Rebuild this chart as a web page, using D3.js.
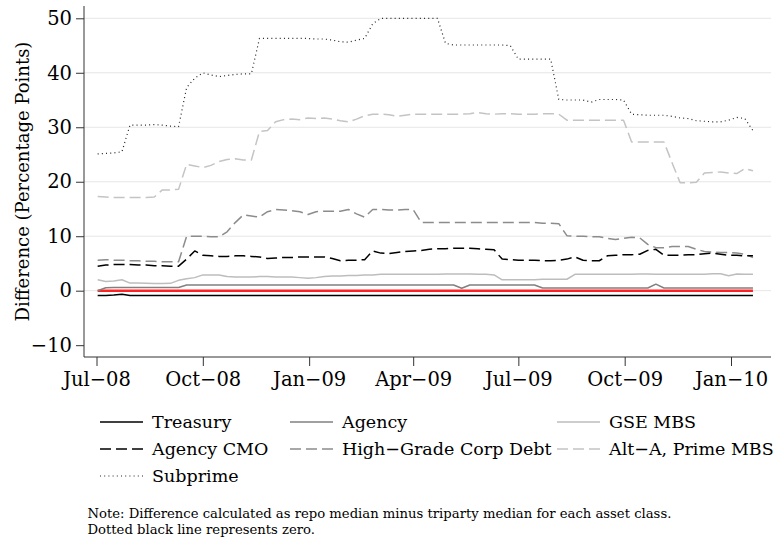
<html>
  <head>
    <meta charset="utf-8">
    <script src="https://d3js.org/d3.v7.min.js"></script>
    <style type="text/css">
      body {
        margin: 0;
        padding: 0;
        background: #fff;
      }
      text {
        font-family: 'DejaVu Serif', serif;
        fill: #000;
      }
    </style>
  </head>
  <body>
    <svg id="chart" width="782" height="542"></svg>
    <script>
      // weekly observations, first one on 2 Jul 2008
      const startDate = new Date(2008, 6, 2)

      const treasury = [
        -0.9, -0.9, -0.8, -0.65, -0.9, -0.9, -0.9, -0.9, -0.9, -0.9,
        -0.9, -0.9, -0.9, -0.9, -0.9, -0.9, -0.9, -0.9, -0.9, -0.9,
        -0.9, -0.9, -0.9, -0.9, -0.9, -0.9, -0.9, -0.9, -0.9, -0.9,
        -0.9, -0.9, -0.9, -0.9, -0.9, -0.9, -0.9, -0.9, -0.9, -0.9,
        -0.9, -0.9, -0.9, -0.9, -0.9, -0.9, -0.9, -0.9, -0.9, -0.9,
        -0.9, -0.9, -0.9, -0.9, -0.9, -0.9, -0.9, -0.9, -0.9, -0.9,
        -0.9, -0.9, -0.9, -0.9, -0.9, -0.9, -0.9, -0.9, -0.9, -0.9,
        -0.9, -0.9, -0.9, -0.9, -0.9, -0.9, -0.9, -0.9, -0.9, -0.9,
        -0.9, -0.9
      ]
      const agency = [
        0.0, 0.55, 0.6, 0.6, 0.6, 0.6, 0.6, 0.6, 0.6, 0.6,
        0.6, 1.05, 1.05, 1.05, 1.05, 1.05, 1.05, 1.05, 1.05, 1.05,
        1.05, 1.05, 1.05, 1.05, 1.05, 1.05, 1.05, 1.05, 1.05, 1.05,
        1.05, 1.05, 1.05, 1.05, 1.05, 1.05, 1.05, 1.05, 1.05, 1.05,
        1.05, 1.05, 1.05, 1.05, 1.05, 0.45, 1.05, 1.05, 1.05, 1.05,
        1.05, 1.05, 1.05, 1.05, 1.05, 0.5, 0.5, 0.5, 0.5, 0.5,
        0.5, 0.5, 0.5, 0.5, 0.5, 0.5, 0.5, 0.5, 0.5, 1.2,
        0.5, 0.5, 0.5, 0.5, 0.5, 0.5, 0.5, 0.5, 0.5, 0.5,
        0.5, 0.5
      ]
      const gseMbs = [
        2.0, 1.7, 1.8, 2.0, 1.4, 1.4, 1.35, 1.3, 1.3, 1.35,
        1.9, 2.2, 2.4, 2.9, 2.9, 2.9, 2.6, 2.5, 2.5, 2.5,
        2.6, 2.6, 2.5, 2.5, 2.5, 2.4, 2.3, 2.4, 2.6, 2.7,
        2.7, 2.8, 2.8, 2.9, 2.9, 3.0, 3.0, 3.0, 3.0, 3.0,
        3.0, 3.0, 3.0, 3.05, 3.05, 3.05, 3.05, 3.0, 3.0, 2.9,
        2.0, 2.0, 2.0, 2.0, 2.0, 2.1, 2.1, 2.1, 2.1, 3.0,
        3.0, 3.0, 3.0, 3.0, 3.0, 3.0, 3.0, 3.05, 3.05, 3.0,
        3.0, 3.0, 3.0, 3.0, 3.0, 3.0, 3.1, 3.1, 2.75, 3.05,
        3.0, 3.0
      ]
      const agencyCmo = [
        4.5, 4.7, 4.8, 4.8, 4.8, 4.7, 4.7, 4.6, 4.6, 4.5,
        4.5, 5.8, 7.3, 6.5, 6.4, 6.3, 6.3, 6.4, 6.4, 6.3,
        6.2, 5.9, 6.0, 6.1, 6.1, 6.2, 6.2, 6.2, 6.2, 5.9,
        5.5, 5.6, 5.6, 5.7, 7.3, 6.9, 6.8, 7.0, 7.2, 7.3,
        7.4, 7.6, 7.7, 7.7, 7.8, 7.8, 7.8, 7.7, 7.6, 7.5,
        5.8, 5.7, 5.6, 5.6, 5.6, 5.5, 5.5, 5.6, 5.8, 6.2,
        5.6, 5.5, 5.5, 6.4, 6.5, 6.6, 6.6, 6.7, 7.4, 7.6,
        6.5, 6.5, 6.5, 6.6, 6.6, 6.8, 6.9, 6.7, 6.5, 6.5,
        6.4, 6.4
      ]
      const highGrade = [
        5.6, 5.7, 5.6, 5.6, 5.5, 5.5, 5.4, 5.4, 5.3, 5.3,
        5.3, 10.0, 10.0, 10.0, 9.9, 9.9, 10.8, 12.5, 13.9, 13.7,
        13.5, 14.5, 14.9, 14.8, 14.7, 14.5, 14.0, 14.5, 14.6, 14.6,
        14.6, 14.9, 14.1, 13.5, 14.9, 14.9, 14.8, 14.8, 14.9, 14.9,
        12.5, 12.5, 12.5, 12.5, 12.5, 12.5, 12.5, 12.5, 12.5, 12.5,
        12.5, 12.5, 12.5, 12.5, 12.5, 12.4, 12.4, 12.3, 10.1, 10.0,
        10.0, 9.9, 9.9, 9.6, 9.4, 9.6, 9.8, 9.7, 8.5, 7.9,
        7.9, 8.1, 8.1, 8.1, 7.6, 7.2, 7.1, 7.0, 7.0, 6.9,
        6.7, 6.1
      ]
      const altA = [
        17.3, 17.2, 17.1, 17.1, 17.1, 17.1, 17.1, 17.2, 18.5, 18.5,
        18.6, 23.2, 22.9, 22.6, 23.0, 23.7, 24.1, 24.2, 24.0, 24.0,
        29.2, 29.4, 31.0, 31.4, 31.5, 31.4, 31.7, 31.6, 31.7, 31.5,
        31.2, 31.0, 31.5, 32.1, 32.4, 32.4, 32.3, 32.0, 32.2, 32.4,
        32.4, 32.4, 32.4, 32.4, 32.4, 32.4, 32.5, 32.7, 32.5, 32.4,
        32.5, 32.5, 32.4, 32.4, 32.4, 32.5, 32.5, 32.4, 31.3, 31.3,
        31.3, 31.3, 31.3, 31.3, 31.3, 31.3, 27.3, 27.3, 27.3, 27.3,
        27.3, 23.5, 19.8, 19.8, 19.9, 21.6, 21.7, 21.8, 21.6, 21.5,
        22.4, 22.0
      ]
      const subprime = [
        25.1, 25.2, 25.3, 25.5, 30.4, 30.4, 30.4, 30.5, 30.4, 30.2,
        30.1, 37.3, 39.0, 40.0, 39.6, 39.3, 39.5, 39.7, 39.8, 39.8,
        46.3, 46.3, 46.3, 46.3, 46.3, 46.3, 46.3, 46.2, 46.2, 46.0,
        45.7, 45.6, 46.0, 46.3, 49.0, 50.0, 50.0, 50.0, 50.0, 50.0,
        50.0, 50.0, 50.0, 45.4, 45.1, 45.1, 45.1, 45.1, 45.1, 45.1,
        45.1, 45.0, 42.5, 42.5, 42.5, 42.5, 42.5, 35.1, 35.0, 35.0,
        35.0, 34.6, 35.1, 35.1, 35.1, 35.0, 32.4, 32.3, 32.2, 32.2,
        32.2, 32.0, 31.7, 31.6, 31.2, 31.1, 31.0, 31.0, 31.3, 31.8,
        31.6, 29.4
      ]

      const yTicks = [-10, 0, 10, 20, 30, 40, 50]
      const xTicks = [
        new Date(2008, 6, 1), new Date(2008, 9, 1), new Date(2009, 0, 1),
        new Date(2009, 3, 1), new Date(2009, 6, 1), new Date(2009, 9, 1),
        new Date(2010, 0, 1)
      ]

      const dates = treasury.map((d, i) => d3.timeDay.offset(startDate, i * 7))

      const series = [
        { name: 'Treasury', values: treasury, color: '#000', width: 1.5, dash: null },
        { name: 'Agency', values: agency, color: '#808080', width: 1.5, dash: null },
        { name: 'GSE MBS', values: gseMbs, color: '#bdbdbd', width: 1.5, dash: null },
        { name: 'Agency CMO', values: agencyCmo, color: '#000', width: 1.5, dash: '11,5' },
        { name: 'High\u2212Grade Corp Debt', values: highGrade, color: '#8c8c8c', width: 1.5, dash: '11,5' },
        { name: 'Alt\u2212A, Prime MBS', values: altA, color: '#c4c4c4', width: 1.5, dash: '11,5' },
        { name: 'Subprime', values: subprime, color: '#222', width: 1.2, dash: '1,3.2' }
      ]

      const svg = d3.select('#chart')

      const x = d3.scaleTime()
        .domain([new Date(2008, 6, 1), new Date(2010, 0, 1)])
        .range([96.5, 731])
      const y = d3.scaleLinear()
        .domain([0, 50])
        .range([290.7, 18.3])

      const plotLeft = 84, plotRight = 771, plotTop = 6, plotBottom = 357

      /* gridlines */
      svg.append('g')
        .selectAll('line')
        .data(yTicks.filter(t => t > -10))
        .join('line')
        .attr('x1', plotLeft)
        .attr('x2', plotRight)
        .attr('y1', d => y(d))
        .attr('y2', d => y(d))
        .style('stroke', '#e6e6e6')
        .style('stroke-width', 1)

      /* zero line */
      svg.append('line')
        .attr('x1', x(dates[0]))
        .attr('x2', x(dates[dates.length - 1]))
        .attr('y1', y(0))
        .attr('y2', y(0))
        .style('stroke', '#f22')
        .style('stroke-width', 2.5)

      const line = d3.line()
        .x((d, i) => x(dates[i]))
        .y(d => y(d))

      svg.append('g')
        .selectAll('path')
        .data(series.slice().reverse())
        .join('path')
        .attr('d', d => line(d.values))
        .style('fill', 'none')
        .style('stroke', d => d.color)
        .style('stroke-width', d => d.width)
        .style('stroke-dasharray', d => d.dash)
        .style('stroke-linejoin', 'round')

      /* axes */
      const yAxis = d3.axisLeft(y)
        .tickValues(yTicks)
        .tickSize(8)
        .tickPadding(4)
        .tickFormat(d => d < 0 ? '\u2212' + Math.abs(d) : d)
      const gy = svg.append('g')
        .attr('transform', `translate(${plotLeft},0)`)
        .call(yAxis)
      gy.select('.domain').remove()
      gy.append('line')
        .attr('x1', 0).attr('x2', 0)
        .attr('y1', plotTop).attr('y2', plotBottom)
        .style('stroke', '#333')

      const xAxis = d3.axisBottom(x)
        .tickValues(xTicks)
        .tickSize(9)
        .tickPadding(6)
        .tickFormat(d => d3.timeFormat('%b')(d) + '\u2212' + d3.timeFormat('%y')(d))
      const gx = svg.append('g')
        .attr('transform', `translate(0,${plotBottom})`)
        .call(xAxis)
      gx.select('.domain').remove()
      gx.append('line')
        .attr('x1', plotLeft).attr('x2', plotRight)
        .attr('y1', 0).attr('y2', 0)
        .style('stroke', '#333')

      svg.selectAll('.tick line').style('stroke', '#333')
      svg.selectAll('.tick text')
        .style('font-family', "'DejaVu Serif', serif")
        .style('font-size', '19.5px')
        .style('fill', '#000')

      svg.append('text')
        .attr('transform', `translate(29,${(plotTop + plotBottom) / 2}) rotate(-90)`)
        .attr('text-anchor', 'middle')
        .style('font-size', '18px')
        .text('Difference (Percentage Points)')

      /* legend */
      const legendCols = [100, 290, 557]
      const legendRows = [422, 449, 476]
      const legend = svg.append('g')
        .selectAll('g')
        .data(series)
        .join('g')
        .attr('transform', (d, i) => `translate(${legendCols[i % 3]},${legendRows[Math.floor(i / 3)]})`)
      legend.append('line')
        .attr('x1', 0).attr('x2', 43)
        .style('stroke', d => d.color)
        .style('stroke-width', d => d.width)
        .style('stroke-dasharray', d => d.dash)
      legend.append('text')
        .attr('x', 52)
        .attr('y', 6)
        .style('font-size', '17.5px')
        .text(d => d.name)

      /* note */
      const noteLines = [
        'Note: Difference calculated as repo median minus triparty median for each asset class.',
        'Dotted black line represents zero.'
      ]
      svg.append('g')
        .selectAll('text')
        .data(noteLines)
        .join('text')
        .attr('x', 87.5)
        .attr('y', (d, i) => 518 + i * 15.5)
        .style('font-size', '13.2px')
        .text(d => d)
    </script>
  </body>
</html>
